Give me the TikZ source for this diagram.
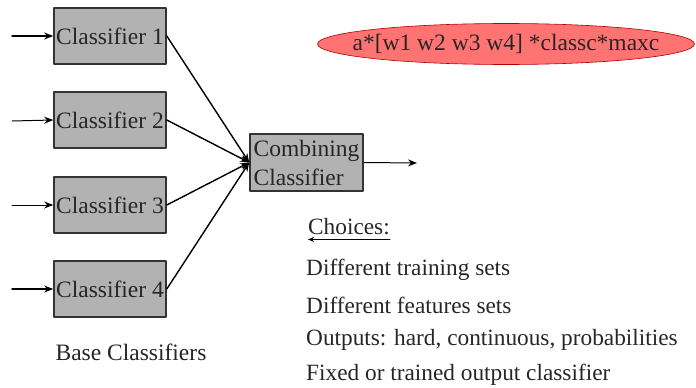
\documentclass[tikz,border=0pt]{standalone}
\usepackage{fontspec}
\setmainfont{Liberation Serif}
\newfontfamily\figfont{Liberation Serif}
\usetikzlibrary{arrows.meta}
\usetikzlibrary{shapes.geometric}

\begin{document}
\begin{tikzpicture}[
				x=1pt, y=-1pt,
				line cap=round,
				line join=round,
				every node/.style={font=\figfont\fontsize{23.5}{29}\selectfont, text=black!85},
				clsbox/.style={draw=black!80, line width=1.6pt, fill=black!30,
					minimum width=112pt, minimum height=56pt, inner sep=1pt},
				link/.style={line width=1.4pt, -{Stealth[length=9pt, width=7pt]}},
				listline/.style={anchor=west, inner sep=0pt, font=\figfont\fontsize{23.3}{25}\selectfont}
				]
				\useasboundingbox (0,0) rectangle (696,388);
				
				% Base classifiers
				\node[clsbox] (c1) at (110,36) {Classifier 1};
				\node[clsbox] (c2) at (110,120) {Classifier 2};
				\node[clsbox] (c3) at (110,205) {Classifier 3};
				\node[clsbox] (c4) at (110,289) {Classifier 4};
				\node (base) at (131,352) {Base Classifiers};
				
				% Inputs
				\coordinate (in1) at (12,36);
				\coordinate (in2) at (12,121);
				\coordinate (in3) at (12,205);
				\coordinate (in4) at (12,289);
				\draw[link] (in1) -- (c1.west);
				\draw[link, line width=1pt] (in2) -- (c2.west);
				\draw[link, line width=1pt] (in3) -- (c3.west);
				\draw[link] (in4) -- (c4.west);
				
				% Combining classifier
				\node[clsbox, minimum width=113pt, minimum height=57pt, inner xsep=2pt, align=left] (comb) at (306.5,162.5) {Combining\\Classifier};
				\coordinate (out) at (417,163);
				\draw[link, line width=1pt] (comb.east) -- (out);
				
				\draw[link] (c1.east) -- (comb.west);
				\draw[link] (c2.east) -- (comb.west);
				\draw[link] (c3.east) -- (comb.west);
				\draw[link] (c4.east) -- (comb.west);
				
				% Weight formula
				\fill[red!55!white] (506,44) ellipse [x radius=188.5, y radius=20.5];
				\draw[red!70!black, line width=0.6pt] (506,44) ellipse [x radius=188.5, y radius=20.5];
				\node (formula) at (506,44) {a*[w1 w2 w3 w4] *classc*maxc};
				
				% Choices
				\node[listline] (choices) at (308,227) {Choices:};
				\draw[line width=1pt, -{Stealth[length=6pt, width=5pt]}] ([yshift=-4pt]choices.south east) -- ([yshift=-4pt]choices.south west);
				\node[listline] (ch1) at (306,270) {Different training sets};
				\node[listline] (ch2) at (306,305) {Different features sets};
				\node[listline] (ch3) at (306,340) {Outputs: hard, continuous, probabilities};
				\node[listline] (ch4) at (306,375) {Fixed or trained output classifier};
			\end{tikzpicture}
\end{document}
